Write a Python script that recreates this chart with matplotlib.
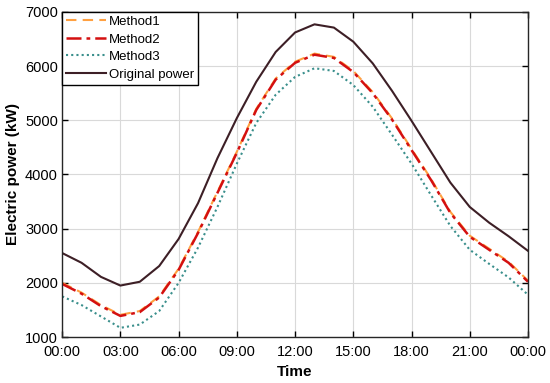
import matplotlib.pyplot as plt
import numpy as np

plt.rcParams['font.family'] = ['Liberation Sans', 'DejaVu Sans']

hours = np.arange(0, 25)
tick_labels = ['00:00', '03:00', '06:00', '09:00', '12:00', '15:00', '18:00', '21:00', '00:00']

original = [2550, 2370, 2110, 1950, 2020, 2310, 2810, 3470, 4300, 5040, 5710, 6260,
            6620, 6770, 6710, 6450, 6050, 5540, 4990, 4420, 3850, 3400, 3110, 2860, 2590]
method2 = [1980, 1800, 1570, 1390, 1460, 1730, 2240, 2920, 3660, 4400, 5190, 5750,
           6060, 6210, 6150, 5890, 5500, 5010, 4450, 3900, 3290, 2850, 2610, 2370, 2020]
method1 = [2000, 1820, 1590, 1410, 1480, 1750, 2260, 2940, 3680, 4420, 5210, 5770,
           6080, 6230, 6170, 5910, 5520, 5030, 4470, 3920, 3310, 2870, 2630, 2390, 2040]
method3 = [1750, 1590, 1380, 1170, 1230, 1480, 2000, 2650, 3400, 4200, 4950, 5470,
           5800, 5960, 5910, 5650, 5250, 4730, 4200, 3620, 3050, 2610, 2350, 2100, 1780]

fig = plt.figure(figsize=(5.5, 3.83), dpi=100)
ax = fig.add_axes([0.113, 0.12, 0.847, 0.849])

ax.plot(hours, method1, color='#FFA040', linestyle=(0, (5, 3)), linewidth=1.5, label='Method1')
ax.plot(hours, method2, color='#D41010', linestyle=(0, (6, 2, 1.5, 2)), linewidth=1.8, label='Method2')
ax.plot(hours, method3, color='#3A8F8C', linestyle=(0, (1, 1.5)), linewidth=1.5, label='Method3')
ax.plot(hours, original, color='#3D1F26', linestyle='-', linewidth=1.5, label='Original power')

ax.set_xlim(0, 24)
ax.set_ylim(1000, 7000)
ax.set_xticks(np.arange(0, 25, 3))
ax.set_xticklabels(tick_labels)
ax.set_yticks(np.arange(1000, 7001, 1000))
ax.grid(True, color='#d9d9d9', linewidth=0.8)
ax.tick_params(direction='in', top=True, right=True, labelsize=10.5, length=4, width=1)
ax.tick_params(axis='x', pad=6)
ax.tick_params(axis='y', pad=3)
for s in ax.spines.values():
    s.set_linewidth(1.0)
    s.set_color('#262626')

ax.set_xlabel('Time', fontsize=11, fontweight='bold', labelpad=4)
ax.set_ylabel('Electric power (kW)', fontsize=11, fontweight='bold', labelpad=4)

leg = ax.legend(loc='upper left', fontsize=9.5, fancybox=False, framealpha=1,
                edgecolor='k', borderaxespad=0, handlelength=3.0,
                handletextpad=0.25, labelspacing=0.4, borderpad=0.3)
leg.get_frame().set_linewidth(1.0)

fig.savefig('out.png', dpi=100)
